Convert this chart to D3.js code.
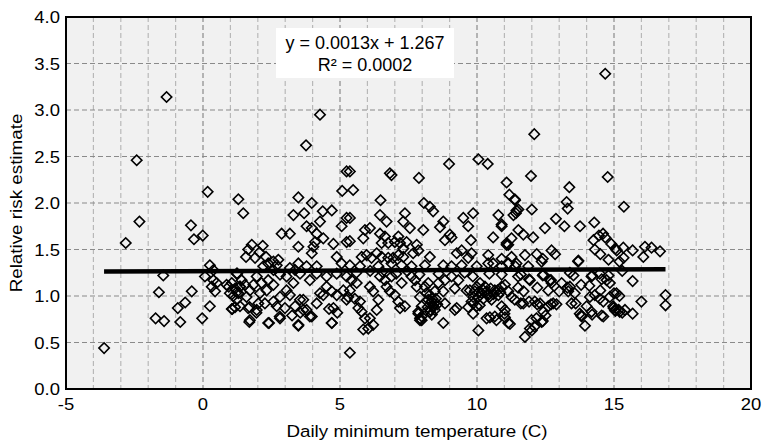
<!DOCTYPE html>
<html>
<head>
<meta charset="utf-8">
<script src="https://cdn.jsdelivr.net/npm/d3@7"></script>
<style>
  body { margin: 0; background: #fff; }
  text { font-family: "Liberation Sans", Arial, sans-serif; fill: #000; }
</style>
</head>
<body>
<svg id="chart" width="762" height="444"></svg>
<script>
// daily observations: [daily minimum temperature (C), relative risk estimate]
const obs = [
  // coldest days
  [-3.61,0.44],[-2.82,1.57],[-2.42,2.46],[-2.32,1.80],[-1.73,0.76],[-1.42,0.73],[-1.61,1.04],
  [-1.45,1.22],[-0.92,0.87],[-0.83,0.72],[-1.33,3.14],[-0.65,0.93],
  // -1 .. 5
  [-0.44,1.76],[-0.33,1.61],[-0.01,1.65],[0.17,2.12],[1.29,2.04],[1.47,1.89],[-0.03,0.76],[0.25,0.89],
  [-0.41,1.05],[0.25,1.33],[0.38,1.28],[0.07,1.21],[0.38,1.17],[0.50,1.14],[0.32,1.10],[0.44,1.05],
  [1.07,0.86],[1.17,0.88],[1.69,0.72],[1.70,0.88],[1.95,0.82],[0.94,1.10],[1.11,1.00],[1.23,1.04],
  [1.35,1.10],[1.25,1.24],
  [4.27,2.95],[3.76,2.62],[5.24,2.34],[5.08,2.13],[3.48,2.06],[3.97,2.00],[3.30,1.87],[3.69,1.89],
  [4.37,1.91],[4.70,1.92],[3.78,1.75],[3.97,1.73],[4.27,1.80],[2.87,1.67],[3.17,1.67],[5.06,1.75],
  [4.15,1.67],[4.09,1.58],[4.39,1.62],[4.03,1.53],[3.97,1.46],[3.48,1.53],[4.76,1.56],[4.88,1.42],
  [5.06,1.35],[5.24,1.58],[5.24,1.84],
  [1.78,1.55],[1.65,1.50],[1.57,1.42],[1.90,1.41],[2.18,1.54],[2.30,1.42],[2.06,1.47],[2.38,1.35],
  [2.57,1.37],[2.75,1.39],[2.69,1.33],[2.20,1.32],[3.48,1.35],[3.78,1.32],[4.15,1.32],[3.17,1.30],
  [3.36,1.28],[1.23,1.24],[1.96,1.21],[4.15,1.24],[4.51,1.21],[4.88,1.24],
  [0.86,1.12],[1.05,1.14],[1.17,1.08],[1.29,1.03],[0.98,1.03],[1.23,0.96],[1.35,0.89],[1.05,0.86],
  [1.41,1.17],[1.53,1.12],[1.35,1.10],[1.71,1.06],[1.84,1.12],[1.59,0.99],[1.65,0.87],[1.96,0.85],
  [2.02,0.92],[2.08,1.03],[2.14,1.14],[2.32,1.06],[2.38,1.17],[2.57,1.12],[2.26,0.92],[2.57,0.94],
  [2.81,0.99],[2.69,0.89],[2.38,0.71],[2.81,0.76],[2.99,0.87],[3.05,1.06],[3.30,1.14],[3.17,1.01],
  [3.36,0.89],[3.54,0.96],[3.66,0.85],[3.48,0.69],[3.78,0.85],[3.97,0.78],[4.15,0.92],[4.27,1.03],
  [4.51,1.10],[4.39,1.01],[4.70,1.05],[4.76,0.87],[4.70,0.71],[4.88,1.01],[5.12,1.06],[5.24,0.96],
  [1.71,0.74],[3.66,0.96],[3.90,1.17],[3.54,1.24],[3.05,1.21],[2.81,1.23],[2.57,1.28],
  [5.36,0.39],[2.41,0.71],[3.48,0.68],[4.70,0.71],[2.80,0.78],[3.25,0.79],[3.55,0.82],[3.90,0.78],
  [4.60,0.86],[4.90,0.82],
  // 5 .. 11
  [5.36,2.34],[5.48,2.14],[6.82,2.32],[6.88,2.30],[7.88,2.27],[8.98,2.42],[10.05,2.47],[10.39,2.42],
  [6.48,2.03],[8.06,2.00],[8.28,1.96],[8.40,1.91],[5.36,1.84],[6.46,1.87],[6.70,1.80],[7.37,1.89],
  [7.31,1.80],[7.55,1.73],[8.04,1.71],[8.77,1.80],[8.65,1.74],[8.83,1.60],[9.01,1.66],[9.07,1.63],
  [9.50,1.84],[9.68,1.75],[9.86,1.89],[10.78,1.87],[10.90,1.75],[10.59,1.63],[11.08,1.57],[9.78,1.60],
  [5.36,1.59],[5.91,1.71],[6.09,1.73],[5.85,1.62],[6.46,1.67],[6.64,1.64],[6.76,1.57],[6.52,1.57],
  [7.13,1.64],[7.19,1.57],[7.31,1.51],[7.43,1.58],[7.00,1.58],[7.80,1.55],[7.86,1.49],[7.67,1.46],
  [8.28,1.42],[5.97,1.44],[5.79,1.42],[6.15,1.41],[6.34,1.46],[6.52,1.42],[6.76,1.41],[7.13,1.44],
  [7.31,1.42],[6.94,1.41],[9.26,1.46],[9.44,1.49],[9.68,1.41],[9.80,1.46],[10.41,1.44],[10.59,1.35],
  [10.41,1.35],[11.14,1.55],[11.26,1.42],
  [5.36,1.33],[5.73,1.32],[6.40,1.32],[6.88,1.35],[7.25,1.33],[7.61,1.32],[8.10,1.33],[8.77,1.33],
  [9.07,1.32],[9.44,1.33],[9.99,1.32],[10.90,1.32],
  [5.24,1.21],[5.42,1.17],[5.61,1.14],[5.36,1.06],[5.30,0.99],[5.54,0.97],[5.73,0.94],[5.67,0.87],
  [5.79,0.83],[5.91,0.76],[6.09,0.76],[6.21,0.69],[5.85,0.64],[6.03,0.65],[6.34,0.85],[6.40,0.96],
  [6.21,1.05],[6.09,1.10],[6.64,1.17],[6.46,1.21],[6.88,1.21],[6.70,1.10],[6.82,1.05],[7.00,1.01],
  [7.13,0.94],[7.19,0.87],[7.37,0.89],[7.25,1.14],[7.61,1.21],[7.74,1.17],[7.80,1.10],[7.92,0.99],
  [7.98,0.89],[7.86,0.83],[7.92,0.76],[7.98,0.74],[8.22,0.96],[8.34,0.94],[8.40,0.89],[8.46,0.85],
  [8.28,0.83],[8.46,1.05],[8.22,1.14],[8.59,1.14],[8.83,1.17],[8.77,1.05],[8.83,0.92],[9.19,0.85],
  [8.77,0.71],[9.19,1.08],[9.07,1.21],[9.32,1.17],[9.62,1.06],[9.86,0.99],[9.80,0.94],[9.99,0.89],
  [10.05,0.99],[10.11,1.14],[10.29,1.10],[10.41,1.01],[10.53,0.96],[10.65,1.06],[10.78,1.01],[10.90,1.10],
  [11.02,1.12],[11.14,1.05],[11.02,0.85],[10.90,0.89],[10.65,0.78],[10.35,0.76],[11.14,0.71],[9.86,0.81],
  [10.05,0.63],[8.10,1.10],[8.28,1.01],[8.37,0.97],[8.44,0.92],[9.74,1.06],[9.92,1.05],[10.17,1.03],
  [10.23,0.97],[9.99,1.10],
  [7.92,0.74],[7.98,0.78],[7.86,0.81],[9.26,0.87],[8.40,0.89],[8.30,0.85],[8.55,0.91],[11.02,0.77],
  [10.71,0.74],[10.47,0.77],[9.86,0.92],[9.68,0.88],[10.10,0.90],
  [10.20,1.07],[10.35,1.05],[10.50,1.08],[10.60,1.02],[10.75,1.06],[10.05,1.04],[10.45,0.99],[10.85,1.04],
  [8.20,0.88],[8.35,0.80],[8.50,0.97],[8.15,1.03],[6.55,1.26],[7.05,1.24],[7.45,1.27],[7.90,1.23],
  [6.10,1.27],[5.60,1.25],[9.55,1.25],[9.85,1.21],[10.45,1.24],[8.60,1.24],
  // 11 .. 17
  [14.68,3.39],[12.09,2.74],[11.97,2.29],[14.77,2.28],[11.08,2.22],[13.37,2.17],[11.18,2.09],[11.39,2.03],
  [13.27,2.01],[13.31,1.94],[15.36,1.96],[12.00,1.93],[11.51,1.93],[11.42,1.89],[11.33,1.87],[12.88,1.83],
  [13.19,1.75],[12.48,1.73],[13.76,1.75],[14.28,1.79],[10.90,1.77],[11.51,1.71],[11.69,1.66],[12.05,1.63],
  [11.08,1.55],[14.25,1.60],[14.45,1.65],[14.60,1.67],[14.68,1.63],[14.90,1.56],[15.05,1.51],[12.72,1.49],
  [12.85,1.45],[12.18,1.45],[12.40,1.40],[13.70,1.38],[14.30,1.50],[14.50,1.45],[15.10,1.49],[15.34,1.52],
  [15.68,1.49],[16.13,1.53],[16.37,1.52],[16.68,1.48],[16.07,1.42],[14.80,1.39],[15.20,1.37],[15.35,1.41],
  [10.90,1.40],[11.15,1.35],[11.40,1.32],[10.90,1.23],[13.39,1.25],[13.52,1.22],[14.20,1.22],[14.55,1.18],
  [14.80,1.22],[15.30,1.27],[15.68,1.16],[11.60,1.23],[11.90,1.18],[12.40,1.22],[12.70,1.17],[11.50,1.09],
  [11.70,1.05],[12.20,1.09],[12.60,1.06],[13.00,1.05],[13.30,1.09],[13.80,1.12],[14.10,1.11],[14.50,1.06],
  [15.00,1.03],[15.20,1.00],[16.00,0.94],[16.88,1.01],[16.88,0.90],
  [15.68,0.81],[14.98,0.87],[15.05,0.84],[15.17,0.85],[15.30,0.82],[13.94,0.68],[14.20,0.80],[13.80,0.79],
  [14.55,0.79],[13.60,0.92],[14.00,0.89],[11.75,0.56],[12.00,0.63],[12.10,0.67],[12.40,0.73],[12.50,0.79],
  [11.20,0.70],[11.00,0.81],[11.60,0.92],[11.90,0.94],[12.20,0.91],[12.70,0.91],[12.90,0.91],
  [11.38,2.04],[11.44,1.92],[11.26,1.62],[11.75,1.44],[12.36,1.37],[11.87,1.32],[11.44,1.35],[11.50,1.21],
  [11.93,1.17],[12.42,1.23],[12.66,1.17],[12.72,1.14],[13.09,1.14],[13.39,1.10],[13.33,1.05],[13.57,1.03],
  [13.69,1.37],[14.18,1.21],[14.48,1.24],[14.73,1.17],[14.85,1.14],[14.12,0.99],[14.30,1.01],[14.48,0.97],
  [14.61,0.94],[14.85,0.99],[15.09,1.03],[14.97,0.89],[15.03,0.85],[15.21,0.83],[15.40,0.85],[13.45,0.92],
  [13.75,0.81],[13.82,0.78],[14.18,0.83],[14.61,0.78],[12.78,0.92],[12.60,0.89],[12.30,0.92],[12.11,0.94],
  [11.69,0.92],[11.38,0.96],[11.26,0.99],[12.42,0.83],[12.17,0.76],[11.99,0.74],[12.36,0.72],[11.93,0.65]
];

const xTicks = [-5, 0, 5, 10, 15, 20];
const yTicks = [0, 0.5, 1, 1.5, 2, 2.5, 3, 3.5, 4];
const trendSlope = 0.0013;
const trendIntercept = 1.267;
const eqLines = ["y = 0.0013x + 1.267", "R\u00b2 = 0.0002"];

const plotL = 66, plotR = 751, plotT = 17, plotB = 389;

const svg = d3.select("#chart");

const x = d3.scaleLinear().domain([-5, 20]).range([plotL, plotR]);
const y = d3.scaleLinear().domain([0, 4]).range([plotB, plotT]);

// plot background
svg.append("rect")
  .attr("x", plotL).attr("y", plotT)
  .attr("width", plotR - plotL).attr("height", plotB - plotT)
  .attr("fill", "#f1f1f1");

// vertical grid every degree, darker every 5
const vLines = d3.range(-4, 20);
svg.append("g").selectAll("line")
  .data(vLines)
  .enter().append("line")
  .attr("x1", d => x(d)).attr("x2", d => x(d))
  .attr("y1", plotT).attr("y2", plotB)
  .attr("stroke", d => d % 5 === 0 ? "#8a8a8a" : "#b8b8b8")
  .attr("stroke-width", 1.2)
  .attr("stroke-dasharray", "5,3");

// horizontal grid
svg.append("g").selectAll("line")
  .data(yTicks.slice(1, -1))
  .enter().append("line")
  .attr("x1", plotL).attr("x2", plotR)
  .attr("y1", d => y(d)).attr("y2", d => y(d))
  .attr("stroke", "#8a8a8a")
  .attr("stroke-width", 1.2)
  .attr("stroke-dasharray", "5,3");

// points
const diamond = d3.symbol().type(d3.symbolSquare).size(54);
svg.append("g").selectAll("path")
  .data(obs)
  .enter().append("path")
  .attr("d", diamond)
  .attr("transform", d => `translate(${x(d[0])},${y(d[1])}) rotate(45)`)
  .attr("fill", "none")
  .attr("stroke", "#000")
  .attr("stroke-width", 1.6);

// linear trend over the observed range
const xExt = d3.extent(obs, d => d[0]);
svg.append("line")
  .attr("x1", x(xExt[0])).attr("x2", x(xExt[1]))
  .attr("y1", y(trendIntercept + trendSlope * xExt[0]))
  .attr("y2", y(trendIntercept + trendSlope * xExt[1]))
  .attr("stroke", "#000")
  .attr("stroke-width", 4.5);

// frame
svg.append("rect")
  .attr("x", plotL).attr("y", plotT)
  .attr("width", plotR - plotL).attr("height", plotB - plotT)
  .attr("fill", "none")
  .attr("stroke", "#000")
  .attr("stroke-width", 2);

// tick labels
svg.append("g").selectAll("text")
  .data(yTicks)
  .enter().append("text")
  .attr("transform", d => `translate(60,${y(d) + 6}) scale(1.12,1)`)
  .attr("text-anchor", "end")
  .attr("font-size", 16.5)
  .text(d3.format(".1f"));

svg.append("g").selectAll("text")
  .data(xTicks)
  .enter().append("text")
  .attr("transform", d => `translate(${x(d)},410) scale(1.12,1)`)
  .attr("text-anchor", "middle")
  .attr("font-size", 16.5)
  .text(d => d);

// axis titles
svg.append("text")
  .attr("transform", "translate(417,437) scale(1.14,1)")
  .attr("text-anchor", "middle")
  .attr("font-size", 16.5)
  .text("Daily minimum temperature (C)");

svg.append("text")
  .attr("transform", `translate(22,${(plotT + plotB) / 2}) rotate(-90) scale(1.14,1)`)
  .attr("text-anchor", "middle")
  .attr("font-size", 16.5)
  .text("Relative risk estimate");

// trendline label
svg.append("rect")
  .attr("x", 276).attr("y", 28)
  .attr("width", 178).attr("height", 50)
  .attr("fill", "#fff");

svg.append("g").selectAll("text")
  .data(eqLines)
  .enter().append("text")
  .attr("x", 365)
  .attr("y", (d, i) => 49 + i * 22)
  .attr("text-anchor", "middle")
  .attr("font-size", 18)
  .text(d => d);
</script>
</body>
</html>
